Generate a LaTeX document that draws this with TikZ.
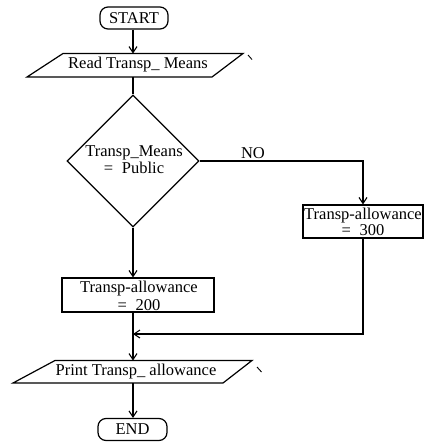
\documentclass[tikz,border=0pt]{standalone}
\usepackage{fontspec}
\setmainfont{Liberation Serif}
\usetikzlibrary{arrows.meta,shapes.geometric}
\begin{document}
\begin{tikzpicture}[x=1pt,y=-1pt,
  every node/.style={font=\fontsize{16.5}{19}\selectfont, inner sep=0pt, align=center},
  line/.style={line width=1.2pt},
  arr/.style={line, -{Straight Barb[length=6pt,width=8pt,line width=1.1pt]}},
  term/.style={draw, line width=1.2pt, rounded corners=8pt, minimum height=22pt},
  iotext/.style={minimum height=23pt},
  procbox/.style={draw, line width=1.2pt},
  decision/.style={draw, line width=1.2pt, diamond, minimum width=132pt, minimum height=132pt}
]
\useasboundingbox (0,0) rectangle (427,448);
% terminals
\node[term, minimum width=68pt] (start) at (134,18) {START};
\node[term, minimum width=69pt] (stop) at (132.5,429.5) {END};
% read
\node[iotext] (read) at (138,65) {Read Transp\_ Means};
\draw[line] (27,77) -- (63,53.5) -- (243,53.5) -- (212,77) -- cycle;
\draw[line width=0.9pt] (248,55) -- (252,59.5);
% decision
\node[decision] (dec) at (133,161) {};
\node (dectext) at (134,160) {Transp\_Means\\[-2pt]= \;Public};
\node (no) at (253,153) {NO};
% boxes
\node[procbox, minimum width=120pt, minimum height=33pt] (b300) at (363,221.5) {};
\node (t300) at (363,222) {Transp-allowance\\[-2.5pt]= \;300};
\node[procbox, minimum width=152pt, minimum height=34pt] (b200) at (138,295) {};
\node (t200) at (139,296) {Transp-allowance\\[-1.5pt]= \;200};
% print
\node[iotext] (print) at (136,372) {Print Transp\_ allowance};
\draw[line] (13,383) -- (55,360.5) -- (252,360.5) -- (223,383) -- cycle;
\draw[line width=0.9pt] (257,367) -- (261.5,372);
% connectors
\draw[arr] (start.south -| 133,0) -- (133,53.5);
\draw[line] (read.south -| dec.north) -- (dec.north);
\draw[arr] (dec.east) -| (b300.north);
\draw[arr] (dec.south) -- (dec.south |- b200.north);
\coordinate (merge) at (133,334);
\draw[arr] (b300.south) |- (merge);
\draw[arr] (dec.south |- b200.south) -- (133,360.5);
\draw[arr] (133,383) -- (stop.north -| 133,0);
\end{tikzpicture}
\end{document}
